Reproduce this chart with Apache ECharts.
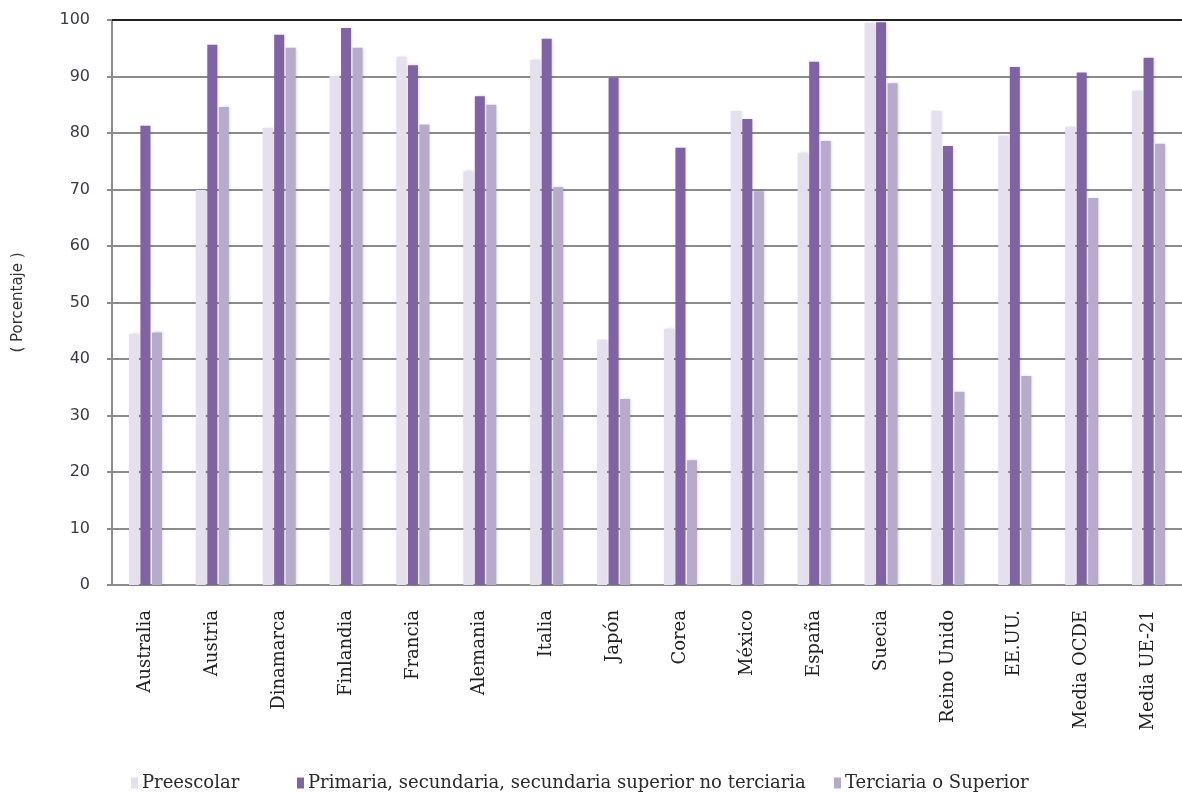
<!DOCTYPE html>
<html><head><meta charset="utf-8">
<script src="https://cdn.jsdelivr.net/npm/echarts@6/dist/echarts.min.js"></script>
<style>html,body{margin:0;padding:0;background:#fff}#c{width:1182px;height:792px}</style>
</head><body><div id="c"></div>
<script>
const categories = ['Australia','Austria','Dinamarca','Finlandia','Francia','Alemania','Italia','Japón','Corea','México','España','Suecia','Reino Unido','EE.UU.','Media OCDE','Media UE-21'];
const seriesNames = ['Preescolar','Primaria, secundaria, secundaria superior no terciaria','Terciaria o Superior'];
const preescolar = [44.4,69.9,80.9,90.1,93.5,73.2,92.9,43.4,45.3,83.9,76.4,99.5,83.9,79.5,81.1,87.5];
const primaria   = [81.3,95.6,97.4,98.6,92.0,86.5,96.7,89.8,77.4,82.5,92.6,99.6,77.7,91.7,90.7,93.3];
const terciaria  = [44.7,84.6,95.1,95.1,81.5,85.0,70.4,32.9,22.1,69.7,78.6,88.8,34.2,37.0,68.5,78.1];
const yTicks = [0,10,20,30,40,50,60,70,80,90,100];
const colors = ['#e5e0ed','#7f63a2','#b6abca'];

const chart = echarts.init(document.getElementById('c'));
const data = [preescolar, primaria, terciaria];
const legendLefts = [126, 292, 829];
chart.setOption({
  animation:false,
  backgroundColor:'#fff',
  grid:{left:112,right:0,top:20,bottom:207,containLabel:false},
  legend: seriesNames.map((n,i)=>({
    data:[n], left:legendLefts[i], top:769, itemWidth:7, itemHeight:11, itemGap:4,
    icon:'rect', textStyle:{fontFamily:'DejaVu Serif', fontSize:18, color:'#2a2a2a', padding:[0,0,0,-1]}
  })),
  xAxis:{type:'category', data:categories,
    axisLine:{lineStyle:{color:'#8c8c8c',width:2}}, axisTick:{show:false},
    axisLabel:{rotate:90, margin:25, interval:0, fontFamily:'DejaVu Serif', fontSize:18, color:'#222'}},
  yAxis:{type:'value', min:0, max:100, interval:10,
    name:'( Porcentaje )', nameLocation:'middle', nameGap:86, nameRotate:90,
    nameTextStyle:{fontFamily:'DejaVu Sans', fontSize:15, color:'#333'},
    axisLine:{show:true, lineStyle:{color:'#8c8c8c',width:2}},
    axisTick:{show:true, inside:false, length:5, lineStyle:{color:'#8c8c8c',width:2}},
    axisLabel:{margin:22, fontFamily:'DejaVu Sans', fontSize:16, color:'#3a3a4a',
      formatter:v=> yTicks.includes(v)? String(v):''},
    splitLine:{lineStyle:{color:'#8c8c8c',width:2}}},
  series: seriesNames.map((n,i)=>({
    name:n, type:'bar', data:data[i], barWidth:10, barGap:'15%',
    itemStyle:{color:colors[i], shadowBlur:3, shadowColor:'rgba(0,0,0,0.18)', shadowOffsetX:1},
    markLine: i===0 ? {silent:true, symbol:'none', label:{show:false},
      lineStyle:{color:'#222', width:2, type:'solid'}, data:[{yAxis:100}]} : undefined
  }))
});
</script></body></html>
